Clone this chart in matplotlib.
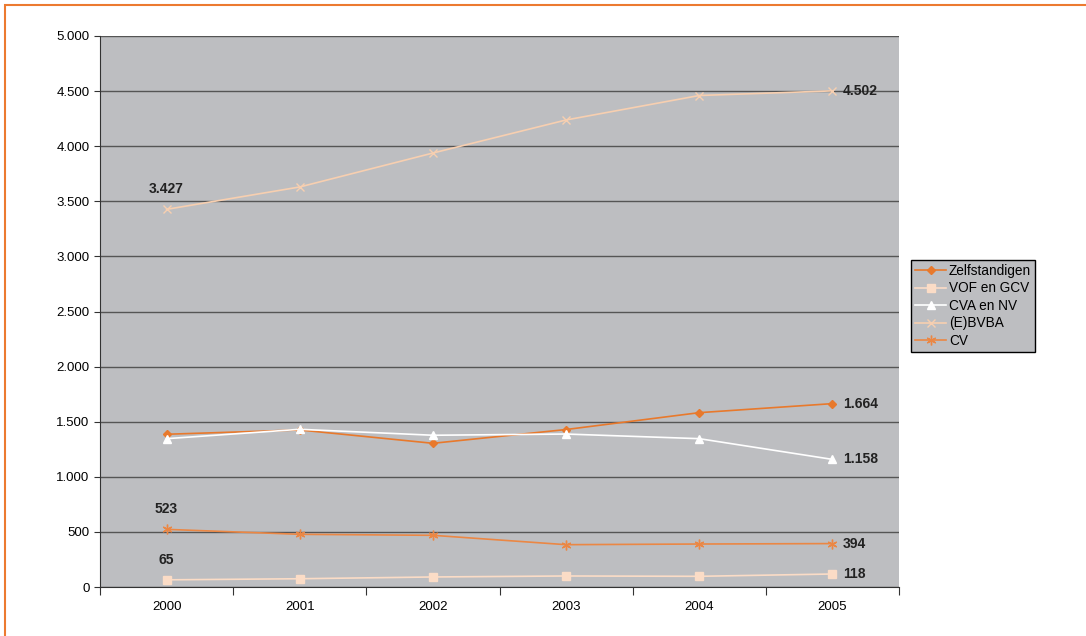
import matplotlib.pyplot as plt
from matplotlib.patches import Rectangle
from matplotlib.ticker import FuncFormatter

plt.rcParams["font.family"] = ["Liberation Sans", "DejaVu Sans"]

years = [2000, 2001, 2002, 2003, 2004, 2005]
zelfstandigen = [1386, 1425, 1304, 1429, 1582, 1664]
vof_gcv = [65, 75, 91, 100, 97, 118]
cva_nv = [1346, 1431, 1377, 1388, 1346, 1158]
bvba = [3427, 3630, 3938, 4238, 4460, 4502]
cv = [523, 478, 469, 384, 390, 394]

fig = plt.figure(figsize=(10.86, 6.36), dpi=100)
ax = fig.add_axes([100 / 1086, 49 / 636, 799 / 1086, 551 / 636])
ax.set_facecolor("#BDBEC1")

# orange frame around the figure
fig.patches.append(Rectangle((5 / 1086, -0.1), 1.2, 0.1 + 631 / 636,
                             transform=fig.transFigure, fill=False,
                             edgecolor="#EC7A30", linewidth=1.5))

ax.plot(years, zelfstandigen, color="#E8792C", marker="D", markersize=4.5,
        linewidth=1.2, label="Zelfstandigen", zorder=3)
ax.plot(years, vof_gcv, color="#FBDCC6", marker="s", markersize=6,
        linewidth=1.2, label="VOF en GCV", zorder=3)
ax.plot(years, cva_nv, color="white", marker="^", markersize=6,
        linewidth=1.2, label="CVA en NV", zorder=3)
ax.plot(years, bvba, color="#F7CFB0", marker="x", markersize=6,
        linewidth=1.2, label="(E)BVBA", zorder=3)
ax.plot(years, cv, color="#EB8744", marker=(6, 2, 0), markersize=7,
        linewidth=1.2, label="CV", zorder=3)

# value labels
lab = dict(fontsize=10, fontweight="bold", color="#222222")
dx = 0.08
ax.text(years[0], bvba[0] + 120, "3.427", ha="center", va="bottom", **lab)
ax.text(years[-1] + dx, bvba[-1], "4.502", ha="left", va="center", **lab)
ax.text(years[-1] + dx, zelfstandigen[-1], "1.664", ha="left", va="center", **lab)
ax.text(years[-1] + dx, cva_nv[-1], "1.158", ha="left", va="center", **lab)
ax.text(years[0], cv[0] + 120, "523", ha="center", va="bottom", **lab)
ax.text(years[-1] + dx, cv[-1], "394", ha="left", va="center", **lab)
ax.text(years[0], vof_gcv[0] + 120, "65", ha="center", va="bottom", **lab)
ax.text(years[-1] + dx, vof_gcv[-1], "118", ha="left", va="center", **lab)

ax.set_xlim(years[0] - 0.5, years[-1] + 0.5)
ax.set_ylim(0, 5000)
ax.set_yticks(range(0, 5001, 500))
ax.yaxis.set_major_formatter(FuncFormatter(lambda v, p: f"{int(v):,}".replace(",", ".")))
ax.set_xticks([y - 0.5 for y in years] + [years[-1] + 0.5])
ax.set_xticklabels([])
ax.set_xticks(years, minor=True)
ax.set_xticklabels([str(y) for y in years], minor=True)
ax.tick_params(axis="x", which="major", length=6, direction="out", color="#333333")
ax.tick_params(axis="x", which="minor", length=0, pad=10, labelsize=9.5)
ax.tick_params(axis="y", length=4, labelsize=9.5, color="#333333")
ax.grid(axis="y", color="#555555", linewidth=1)
ax.set_axisbelow(True)
for s in ["top", "right"]:
    ax.spines[s].set_visible(False)
ax.spines["left"].set_color("#333333")
ax.spines["bottom"].set_color("#333333")

leg = fig.legend(loc="upper left", bbox_to_anchor=(911 / 1086, 1 - 260 / 636),
                 fontsize=9.8, frameon=True, fancybox=False, borderpad=0.3,
                 labelspacing=0.25, handlelength=2.3, handletextpad=0.2,
                 borderaxespad=0)
leg.get_frame().set_facecolor("#BDBEC1")
leg.get_frame().set_edgecolor("black")
leg.get_frame().set_alpha(1)

plt.savefig("out.png", dpi=100)
